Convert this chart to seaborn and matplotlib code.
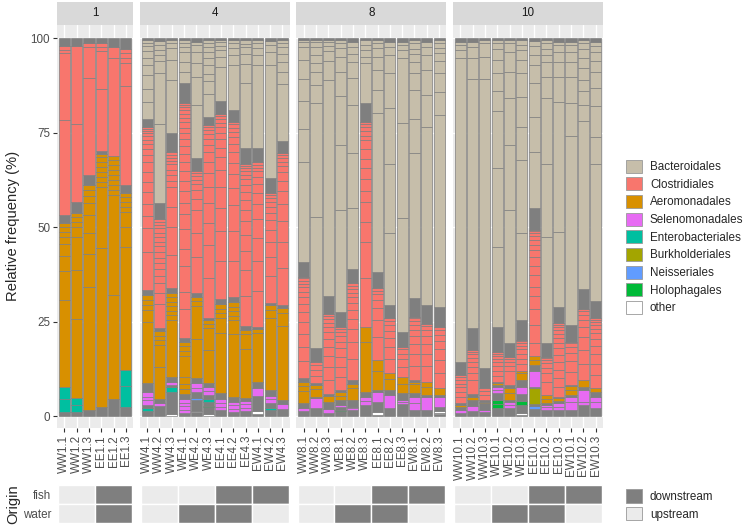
import matplotlib
matplotlib.use("Agg")
import matplotlib.pyplot as plt
import seaborn as sns
import pandas as pd
from matplotlib.patches import Patch

# ---------------- data ----------------
days = ["1", "4", "8", "10"]

samples_d1 = ["WW1.1", "WW1.2", "WW1.3", "EE1.1", "EE1.2", "EE1.3"]
samples_d4 = ["WW4.1", "WW4.2", "WW4.3", "WE4.1", "WE4.2", "WE4.3",
              "EE4.1", "EE4.2", "EE4.3", "EW4.1", "EW4.2", "EW4.3"]
samples_d8 = ["WW8.1", "WW8.2", "WW8.3", "WE8.1", "WE8.2", "WE8.3",
              "EE8.1", "EE8.2", "EE8.3", "EW8.1", "EW8.2", "EW8.3"]
samples_d10 = ["WW10.1", "WW10.2", "WW10.3", "WE10.1", "WE10.2", "WE10.3",
               "EE10.1", "EE10.2", "EE10.3", "EW10.1", "EW10.2", "EW10.3"]

# OTU segments per sample, bottom to top: <order code><relative abundance>[x<repeat>]
# g = block of many tiny OTUs (shows as solid outline grey)
stacks_d1 = [
    "g1.1 E3.5 E3.1 A22.9 A7.7 A3.9 A3.4 A1.7 A1.4 A1.3 A1.0 g2.1 C25.1 C17.8 C0.9 C0.9 g2.2",
    "g1.1 E1.8 E1.8 A20.9 A13 A8.7 A2.8 A1.3 A1.3 A1.0 g2.9 C20.7 C20.7 g2.0",
    "g1.5 A32.7 A8.7 A5.4 A4.9 A3.1 A1.9 A1.6 A1.3 g2.7 C25.5 C8.2 C1.1 g1.4",
    "g2.5 A41.9 A16.3 A1.3x6 A0.9 g0.6 C16.6 C10 C1 C1 g1.4",
    "g4.4 A27.6 A26.5 A1.3x7 A1.2 C25.8 C3 g2.4",
    "g2.5 E5.5 E4.2 A32.6 A5.3 A4 A1.3x3 A1.0 g2.2 C26.2 C6 C1.3 C1.3 C1 g3",
]
stacks_d4 = [
    "g1.3 E0.9 g0.8 S1.1 S1.0 S1.1 g2.6 A15.9 A3.1 A1.3x3 g1.4 C10.1 C6.2 C3.2 C3.2 C3 C2.8 C2.6 C2.4 C2 C1.6 C1.3 C1.1 C0.9 C0.8 C0.7 C0.5 C0.5 g2.1 B4.4 B3.5 B3.5 B2.7 B1.8 B1.8 B1.3 B0.9 B0.9 g0.4",
    "g2.6 S0.8 g1.1 A8.5 A5.8 A1.2x3 g0.8 C6.4 C3 C2.5 C2 C1.8 C1.5x4 C1.2x4 C0.8x3 g4.2 B20.9 B13.5 B3.1 B1.8 B1.3 B1.3 B0.9 g0.9",
    "O0.5 g5.8 E1.3 g0.6 S0.8 g1.4 A15 A1.2x5 A1.1 g1.3 C8.7 C7.6 C5.3 C5.3 C1.5x4 C0.8x4 g4.9 B14.1 B5.3 B3.1 B1.3 B0.9 g0.5",
    "g0.8 S0.9x4 g1.4 A1.3 A1.3 A1.8 A5.6 A1.3x3 g1.0 C7.5 C4.5 C7 C4.4 C5.3 C4 C3 C3 C2.8 C2.6 C2.4 C2.2 C2 C1.8 C1.6 C1.5 C1.4 C1.2 C1 C1 C0.8 C0.6 C0.5 g5.2 B3.1 B2.6 B2.7 B1.3 B0.9 B0.9 g0.5",
    "g1.0 O0.4 g2.8 N0.6 g1.5 S1.2 S1.2 g1.3 A10.5 A8.5 A1.3 A1.3 g0.9 C9.5 C6.5 C6 C3 C2.2 C1.6 C1.2 C1 C0.8 C0.5 g3.4 B14.1 B7.5 B3.5 B3 B1.8 B0.9 g1",
    "O0.5 g1.8 H0.4 g1.0 E0.8 g1.0 S1.1 S1.1 g1.0 A8.8 A5.7 A1.1 A1.1 g0.6 C10.4 C8.8 C5.8 C5.3 C4.4 C3.5 C3.1 C2.5 C2 C1.6 C1.2 C1 C0.8 C0.6 g2.2 B6.0 B3.5 B1.9 B2.2 B1.8 B1.8 B1.3 B0.9 B0.9 g0.5",
    "g1.6 S0.9 S1.0 S1.0 g1.5 A16 A4 A1.2x3 g1.4 C10 C8 C6 C5.5 C4.5 C3.4 C2.6 C2.2 C1.8 C1.4 C1.2 C1 C0.8 C0.6 g3.4 B8.8 B2.7 B1.8 B1.3 B0.9 B0.7 g0.4",
    "g1.1 S0.9 S0.9 S0.8 g1.3 A17 A3.5 A1.2x4 g1.5 C9.5 C8 C7 C4.5 C3.8 C3 C2.8 C2.2 C1.8 C1.4 C1.1 C0.9 C0.6 g3.2 B12.1 B2.6 B1.8 B1.3 B0.8 g0.6",
    "g1.3 S0.9 S0.9 S0.8 g0.9 A13 A4 A1 g0.9 C8 C7 C5 C4.2 C3.6 C3 C2.6 C2.2 C1.8 C1.5 C1.2 C1 C0.8 C0.6 C0.6 g4 B17.3 B5 B2.6 B1.8 B1.0 B0.9 g0.6",
    "g0.5 O0.8 g4.0 S2.1 g1.6 A13 A1 g0.6 C9.5 C8 C6 C5 C4 C3 C2.4 C1.8 C1.4 C1 C0.8 C0.6 g3.7 B22.1 B2.6 B1.8 B1.3 B0.8 g0.6",
    "g1.5 E0.6 g1.3 S1.0 S0.9 g1.6 A19 A2.2 A1.2 g0.7 C7 C5 C4 C3.2 C2.6 C2 C1.6 C1.2 C1 C0.8 C0.5 g4 B30 B3.5 B1.8 B0.9 g0.9",
    "g1.9 S1.3 g1.0 A19.3 A3.5 A1.2 g1 C9.5 C7 C5.5 C4.2 C3.4 C2.8 C2.2 C1.6 C1.2 C1 C0.8 C0.5 g3.1 B15 B3 B2.6 B2.2 B1.8 B1 B0.8 g0.6",
]
stacks_d8 = [
    "g1.3 S0.8 g1.3 A3.2 A1.3 A1.2 g0.9 C4.5 C3.8 C3.5 C3 C2.6 C2.2 C1.8 C1.4 C1.2 C1 C0.8 C0.6 C0.5 g3.9 B26.5 B8.5 B7.6 B5.7 B5.1 B3.5 B1.2 B0.6 g0.5",
    "g2.0 S2.7 g0.4 A2 A1.1 g0.5 C2 C1.5 C1.2 C1 g3.5 B34.8 B30.2 B4.7 B3.5 B2.4 B2 B2.2 B1.2 B0.6 g0.5",
    "g0.7 S1.3 g1.8 A1.8 g0.4 C4 C3.4 C3 C2.6 C2.2 C1.8 C1.4 C1.2 C1 C0.8 C0.6 g4.9 B59.5 B5.3 B2.7 B1.3 B1.2 B0.6 g0.5",
    "g1.3 H0.4 g0.8 S0.5 g1.2 A1.2 A1.0 g0.5 C3.4 C2.6 C2.8 C2.2 C1.8 C1.4 C1 C0.8 C0.7 g4 B26.9 B17.2 B13 B6.4 B4 B2.2 B1.3 B0.9 g0.5",
    "g1.5 S0.5 S0.5 g1.8 A3 A1.2 g1 C5.5 C4.5 C3.4 C2.8 C2.3 C1.9 C1.5 C1.2 C1 C0.8 C0.7 g3.7 B16.1 B14.6 B12.8 B7 B4.4 B2.2 B1.8 B1.3 g1.0",
    "g2.9 S1.1 S1.1 g1.3 A13.3 A3.9 C12.8 C9.7 C5.3 C5.3 C2.9 C3.1 C2.8 C2.6 C2.6 C2.2 C1.3 C1.3 C1 C0.8 C0.6 g4.8 B10.6 B1.8 B1.8 B1.3 B1.3 g0.5",
    "g0.3 O0.8 g2.7 S2.6 g0.5 A5 A2.9 C6 C4.5 C3.2 C2.2 C1.5 C1 C0.6 g4.4 B41.9 B6.1 B5.3 B3.6 B2.2 B1.3 B0.9 g0.5",
    "g2 S3.6 g1.3 A2.8 A1.6 C3.8 C3.1 C2.5 C1.9 C1.5 C1.1 C0.6 g3.6 B18.9 B18.5 B14.6 B9.4 B4.7 B2.2 B1.3 g1",
    "g3.3 S0.5 S0.5 g1.7 A2.6 A1.8 C2.6 C2 C1.5 C1.1 C0.7 g4 B30 B25.1 B17.2 B2.2 B1.3 B0.9 g1",
    "g1.6 S1.8 S1.7 g0.9 A2.5 A0.6 g0.4 C3.8 C3.2 C2.6 C2.1 C1.6 C1.3 C1 C0.8 C0.4 g4.8 B38.4 B9.2 B7.5 B4.5 B3 B2.2 B1.3 B1.4 B0.8 g0.6",
    "g1.6 S3.4 g0.6 A2.2 A1.3 C4 C3.3 C2.7 C2.1 C1.5 C1.1 C0.6 g5 B47.1 B8.4 B6.6 B4 B2.2 B1.3 g1",
    "g0.5 O0.4 O0.4 g1.2 S2.6 g0.5 A1.7 C4.2 C3.4 C2.8 C2.2 C1.6 C1.2 C0.9 g5.3 B50.7 B6.2 B4.9 B3.1 B2.2 B1.3 B1.3 B0.8 g0.6",
]
stacks_d10 = [
    "g0.8 S0.8 g0.9 A0.5 g0.4 C1.6 C1.4 C1.2 C1 C0.9 C0.7 C0.6 g3.6 B80.2 B2.2 B1.3 B0.9 g1",
    "g1.4 S1.2 g1.6 A0.9 g0.8 C3.6 C2 C1.5 C1.2 C1.2 C0.9 C0.6 C0.5 g5.8 B65.9 B5.5 B3.1 B1.3 g1",
    "g1.1 S0.5 g1.8 A0.4 g0.4 C1.4 C1 C0.7 g5.3 B76.5 B6 B3.5 B0.8 g0.6",
    "g2.0 H1.1 H1.1 g1.8 S0.8 S0.8 g0.6 A0.5 g0.3 C1.6 C1.4 C1.2 C1 C0.9 C0.8 C0.6 C0.5 g6.6 B21.2 B20.7 B15.3 B5.3 B4.7 B3.5 B2.9 B1.4 B0.9 g0.5",
    "g2 S0.9 S0.9 g0.4 A2 A1.1 g0.9 C3.6 C1.4 C1 C0.8 C0.7 g3.5 B35.3 B17.2 B12.4 B7 B5.3 B2.2 B0.9 g0.5",
    "g0.3 O0.4 g2.2 H1.1 g1.8 S1.8 g1.9 A1.8 A0.6 C1.8 C1.5 C1.3 C1.1 C0.9 C0.7 C0.6 C0.3 g5.2 B23 B19.4 B8.8 B8 B6.2 B3.5 B2.6 B1.3 B1.3 g0.6",
    "g1.8 N0.8 g0.6 K4.1 g0.3 S4.4 g1.5 A1.3 A1.1 C3.3 C5 C4 C3.5 C2.5 C3 C2.6 C2.2 C1.8 C1.5 C1.2 C1 C0.8 C0.6 C0.4 g5.7 B14.9 B9.3 B8.8 B4.9 B2.7 B2.2 B1.3 g0.9",
    "g1.6 S0.7 S0.6 g0.5 A1.2 A1 C3.5 C2.3 C1.4 C1.1 C0.9 C0.6 C0.3 g3.5 B28.2 B19.4 B17.3 B5.7 B3.9 B1.8 B1.7 B1.4 B0.9 g0.5",
    "g1.6 S0.9 S0.9 g0.7 A0.6 g0.4 C2.6 C2.4 C2 C2.2 C1.9 C1.7 C1.5 C1.3 C1.1 C0.9 C0.8 C0.6 C0.4 g4.4 B19.8 B34.5 B6.6 B3.9 B2.6 B1.8 B0.9 g1",
    "g1.6 S2 S1.5 g0.5 A1.3 A1 g0.3 C3.5 C2.8 C2.2 C1.5 C1.1 C0.4 g4.4 B49.9 B8.7 B7.1 B3.9 B2.6 B1.8 B0.9 g1",
    "g2.9 S0.7 S3.3 g0.9 A1.7 C4.3 C3.8 C3.4 C2.6 C1.8 C1.5 C1.1 C0.5 g5.3 B44.6 B4.4 B3.5 B3.1 B3 B2.7 B2.6 B1.4 B0.8 g0.6",
    "g2 S1.6 S1.5 g1.3 A0.9 C3.5 C3 C2.6 C2.2 C1.8 C1.5 C1.2 C1 C0.8 C0.6 C0.4 g4.5 B36.4 B7.1 B8 B5 B4 B3 B2.3 B1.8 B1 g1",
]

orders = ["Bacteroidales", "Clostridiales", "Aeromonadales", "Selenomonadales",
          "Enterobacteriales", "Burkholderiales", "Neisseriales", "Holophagales", "other"]
order_codes = ["B", "C", "A", "S", "E", "K", "N", "H", "O"]
order_colors = ["#C6BEAA", "#F8766D", "#D89000", "#E76BF3",
                "#00BFA0", "#A3A500", "#619CFF", "#00BA38", "#FFFFFF"]
dense_color = "#7F7F7F"

origin_rows = ["fish", "water"]
origin_levels = ["downstream", "upstream"]
origin_colors = ["#7F7F7F", "#EBEBEB"]
site_origin = {"E": "downstream", "W": "upstream"}

all_samples = [samples_d1, samples_d4, samples_d8, samples_d10]
all_stacks = [stacks_d1, stacks_d4, stacks_d8, stacks_d10]

# ---------------- long table ----------------
colour_of = dict(zip(order_codes, order_colors))
colour_of["g"] = dense_color
rows = []
for day, samples, stacks in zip(days, all_samples, all_stacks):
    for i, (s, st) in enumerate(zip(samples, stacks)):
        for tok in st.split():
            code, rest = tok[0], tok[1:]
            n = 1
            if "x" in rest:
                rest, n = rest.split("x")
            for _ in range(int(n)):
                rows.append(dict(day=day, sample=s, pos=i, code=code, value=float(rest)))
df = pd.DataFrame(rows)
df["pct"] = df["value"] / df.groupby("sample")["value"].transform("sum") * 100
df["bottom"] = df.groupby("sample")["pct"].cumsum() - df["pct"]
df["colour"] = df["code"].map(colour_of)

# ---------------- figure ----------------
sns.set_style("darkgrid", {"axes.facecolor": "#EBEBEB", "grid.color": "white"})
plt.rcParams["font.family"] = ["Liberation Sans", "DejaVu Sans"]

W, H = 750, 531
fig = plt.figure(figsize=(W / 100, H / 100), dpi=100)


def px_axes(x0, y0, x1, y1):
    return fig.add_axes([x0 / W, 1 - y1 / H, (x1 - x0) / W, (y1 - y0) / H])


left, right, gap = 57, 603, 6.5
slot = (right - left - 3 * gap) / sum(len(s) + 0.2 for s in all_samples)
ptop, pbot = 25, 428
tile_top, tile_bot = 485, 523
txt = "#4D4D4D"

x0 = left
for j, (day, samples) in enumerate(zip(days, all_samples)):
    n = len(samples)
    x1 = x0 + (n + 0.2) * slot
    ax = px_axes(x0, ptop, x1, pbot)
    sub = df[df["day"] == day]
    ax.bar(sub["pos"], sub["pct"], bottom=sub["bottom"], width=0.9,
           color=sub["colour"], edgecolor="#7F7F7F", linewidth=0.5)
    ax.set_xlim(-0.6, n - 0.4)
    ax.set_ylim(-3.17, 103.44)
    ax.set_xticks(range(n))
    ax.set_xticklabels(samples, rotation=90, fontsize=8.4, color=txt)
    ax.set_yticks([0, 25, 50, 75, 100])
    ax.grid(True, color="white", linewidth=1.0)
    ax.set_axisbelow(True)
    ax.tick_params(axis="both", length=3, width=0.8, color="#333333", pad=2,
                   bottom=True, left=(j == 0))
    if j == 0:
        ax.set_yticklabels(["0", "25", "50", "75", "100"], fontsize=8.4, color=txt)
    else:
        ax.set_yticklabels([])
    for sp in ax.spines.values():
        sp.set_visible(False)

    st = px_axes(x0, 2, x1, ptop)
    st.set_facecolor("#D9D9D9")
    st.set_xticks([])
    st.set_yticks([])
    st.grid(False)
    for sp in st.spines.values():
        sp.set_visible(False)
    st.text(0.5, 0.5, day, ha="center", va="center", fontsize=8.4,
            color="#1A1A1A", transform=st.transAxes)

    # origin tiles: one tile per fish/water treatment group (runs of equal prefix)
    tl = px_axes(x0, tile_top, x1, tile_bot)
    tl.set_facecolor("white")
    tl.grid(False)
    for r, row in enumerate(origin_rows):
        yrow = 1 - r
        start = 0
        for i in range(1, n + 1):
            if i == n or samples[i][:2] != samples[start][:2]:
                lev = site_origin[samples[start][r]]
                tl.bar((start + i - 1) / 2, 1.0, bottom=yrow - 0.5, width=i - start,
                       color=origin_colors[origin_levels.index(lev)],
                       edgecolor="white", linewidth=1.0)
                start = i
    tl.set_xlim(-0.6, n - 0.4)
    tl.set_ylim(-0.52, 1.52)
    tl.set_xticks([])
    tl.set_yticks([1, 0])
    if j == 0:
        tl.set_yticklabels(origin_rows, fontsize=8.4, color=txt)
    else:
        tl.set_yticklabels([])
    tl.tick_params(axis="y", length=0, pad=4)
    for sp in tl.spines.values():
        sp.set_visible(False)

    x0 = x1 + gap

fig.text(13 / W, 1 - 226 / H, "Relative frequency (%)", rotation=90,
         ha="center", va="center", fontsize=10.6)
fig.text(13 / W, 1 - 504 / H, "Origin", rotation=90,
         ha="center", va="center", fontsize=10.6)

handles = [Patch(facecolor=c, edgecolor="#999999", linewidth=0.6) for c in order_colors]
fig.legend(handles, orders, loc="center left", bbox_to_anchor=(626 / W, 1 - 237 / H),
           frameon=False, fontsize=8.4, handlelength=1.35, handleheight=1.35,
           labelspacing=0.36, handletextpad=0.7, borderpad=0, borderaxespad=0)

handles2 = [Patch(facecolor=c, edgecolor="#999999", linewidth=0.6) for c in origin_colors]
fig.legend(handles2, origin_levels, loc="center left", bbox_to_anchor=(626 / W, 1 - 505 / H),
           frameon=False, fontsize=8.4, handlelength=1.35, handleheight=1.35,
           labelspacing=0.36, handletextpad=0.7, borderpad=0, borderaxespad=0)

fig.savefig("out.png", dpi=100)
